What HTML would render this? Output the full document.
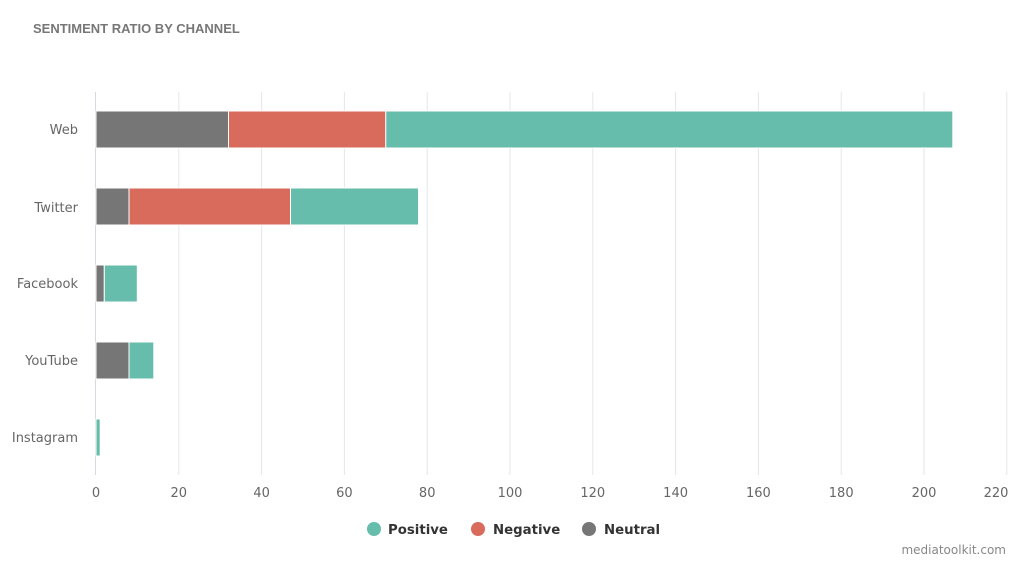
<!DOCTYPE html><html><head><style>body{margin:0;background:#fff;width:1024px;height:563px;overflow:hidden;font-family:"DejaVu Sans","Liberation Sans",sans-serif}</style></head><body>
<svg width="1024" height="563" xmlns="http://www.w3.org/2000/svg" font-family="DejaVu Sans, Liberation Sans, sans-serif">
<text x="33" y="33" font-family="Liberation Sans, sans-serif" font-weight="bold" font-size="13" fill="#777">SENTIMENT RATIO BY CHANNEL</text>
<g stroke="#e6e6e6" stroke-width="1">
<line x1="178.8" y1="92" x2="178.8" y2="475"/><line x1="261.6" y1="92" x2="261.6" y2="475"/><line x1="344.4" y1="92" x2="344.4" y2="475"/><line x1="427.2" y1="92" x2="427.2" y2="475"/><line x1="510" y1="92" x2="510" y2="475"/><line x1="592.8" y1="92" x2="592.8" y2="475"/><line x1="675.6" y1="92" x2="675.6" y2="475"/><line x1="758.4" y1="92" x2="758.4" y2="475"/><line x1="841.2" y1="92" x2="841.2" y2="475"/><line x1="924" y1="92" x2="924" y2="475"/><line x1="1006.8" y1="92" x2="1006.8" y2="475"/>
</g>
<line x1="95.5" y1="92" x2="95.5" y2="475" stroke="#d8d8e0"/>
<g stroke="#fff" stroke-width="1">
<rect x="96" y="111" width="132.5" height="37" fill="#767676"/><rect x="228.5" y="111" width="157.3" height="37" fill="#d86b5c"/><rect x="385.8" y="111" width="567" height="37" fill="#66bdab"/>
<rect x="96" y="188" width="33" height="37" fill="#767676"/><rect x="129" y="188" width="161.5" height="37" fill="#d86b5c"/><rect x="290.5" y="188" width="128" height="37" fill="#66bdab"/>
<rect x="96" y="265" width="8.3" height="37" fill="#767676"/><rect x="104.3" y="265" width="33" height="37" fill="#66bdab"/>
<rect x="96" y="342" width="33" height="37" fill="#767676"/><rect x="129" y="342" width="24.8" height="37" fill="#66bdab"/>
<rect x="96" y="419" width="4.2" height="37" fill="#66bdab"/>
</g>
<g font-size="13" fill="#666" text-anchor="end">
<text x="78" y="134">Web</text><text x="78" y="212">Twitter</text><text x="78" y="288">Facebook</text><text x="78" y="365">YouTube</text><text x="78" y="442">Instagram</text>
</g>
<g font-size="13" fill="#666" text-anchor="middle">
<text x="96" y="497">0</text><text x="178.8" y="497">20</text><text x="261.6" y="497">40</text><text x="344.4" y="497">60</text><text x="427.2" y="497">80</text><text x="510" y="497">100</text><text x="592.8" y="497">120</text><text x="675.6" y="497">140</text><text x="758.4" y="497">160</text><text x="841.2" y="497">180</text><text x="924" y="497">200</text><text x="996" y="497">220</text>
</g>
<g font-size="13.3" font-weight="bold" fill="#333">
<circle cx="374" cy="529" r="7" fill="#66bdab"/><text x="388" y="534">Positive</text>
<circle cx="478" cy="529" r="7" fill="#d86b5c"/><text x="493" y="534">Negative</text>
<circle cx="589" cy="529" r="7" fill="#767676"/><text x="604" y="534">Neutral</text>
</g>
<text x="1006" y="554" font-size="12" fill="#888" text-anchor="end">mediatoolkit.com</text>
</svg></body></html>
